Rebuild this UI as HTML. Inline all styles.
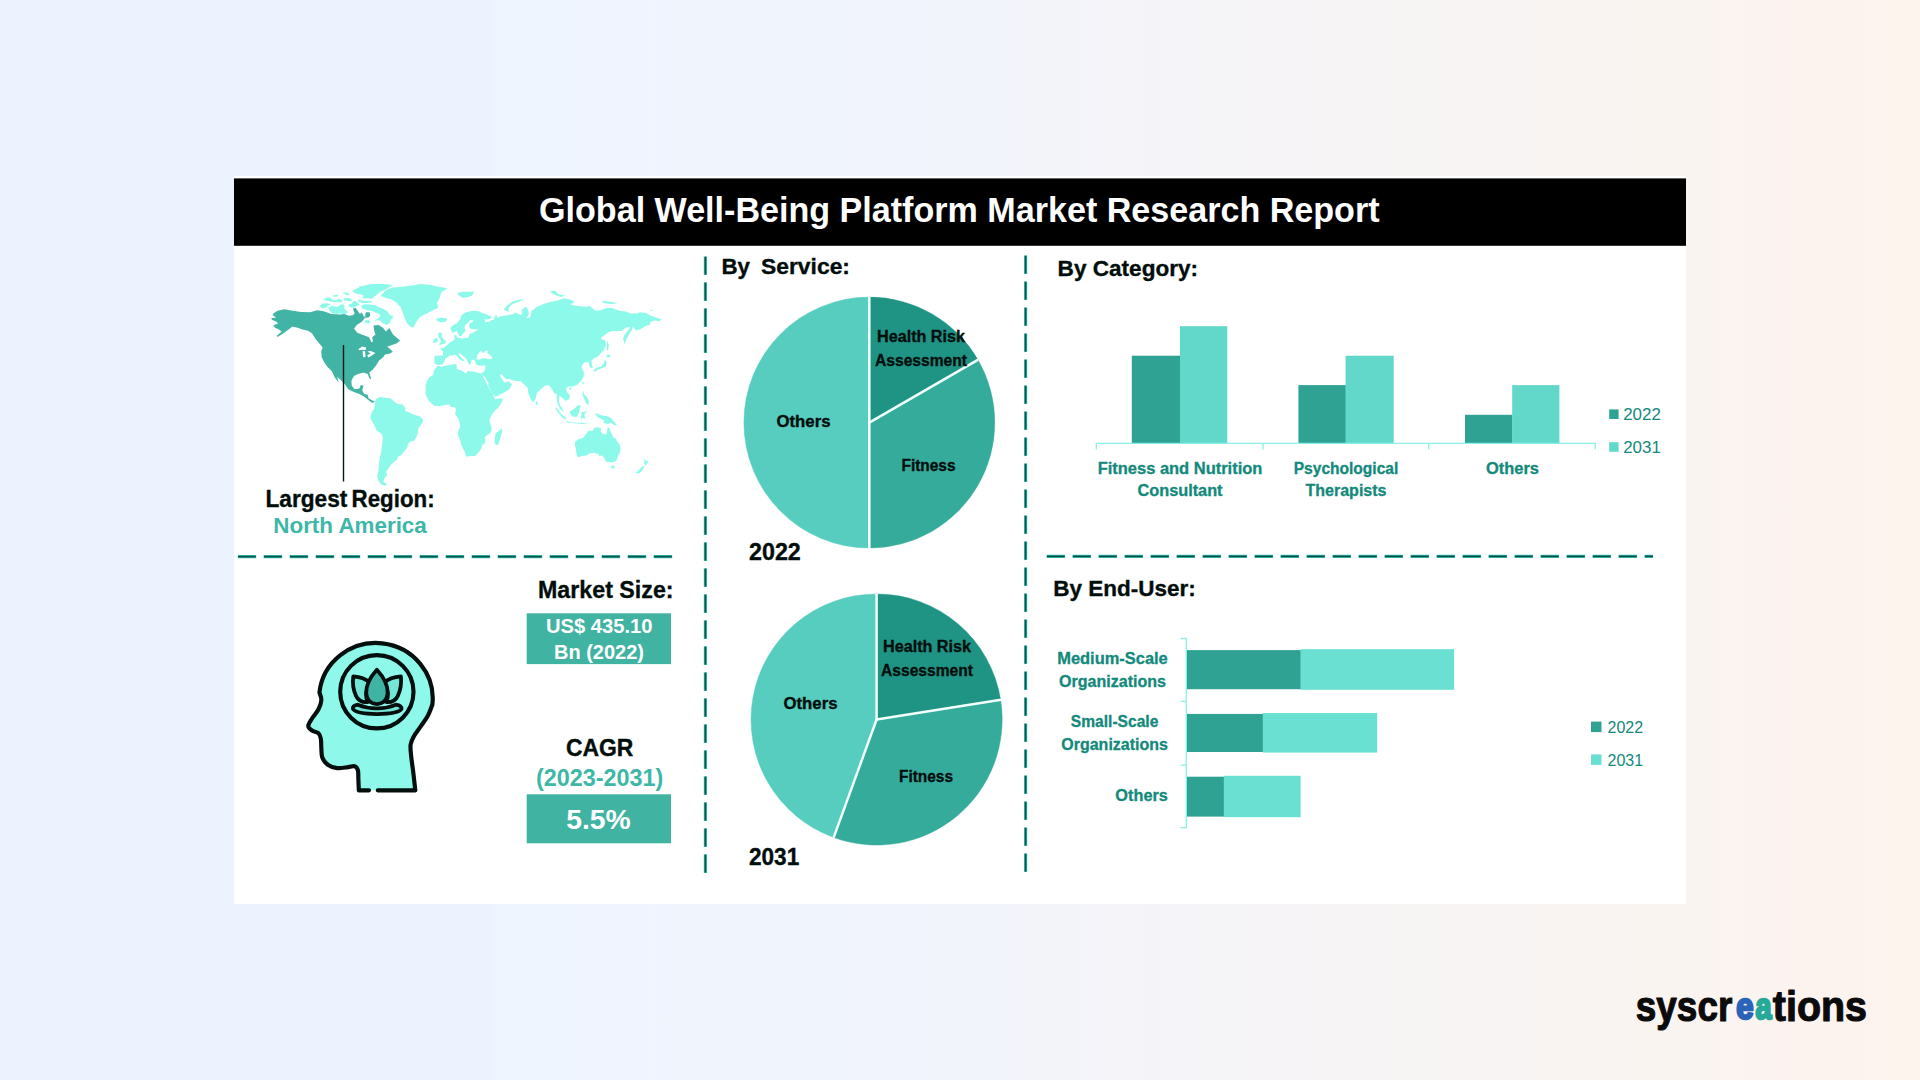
<!DOCTYPE html>
<html lang="en">
<head>
<meta charset="utf-8">
<title>Global Well-Being Platform Market Research Report</title>
<style>
html,body{margin:0;padding:0;}
body{width:1920px;height:1080px;overflow:hidden;position:relative;
background:linear-gradient(90deg,#ecf3fe 0%,#ecf3fe 25.5%,#eff5ff 26%,#f0f4fd 42%,#f2f4fb 52%,#f4f4f9 58%,#f6f4f6 67%,#f8f4f3 78%,#faf4f0 88%,#fcf3ef 94%,#fdf4ee 100%);
font-family:'Liberation Sans', sans-serif;}
svg{position:absolute;left:0;top:0;display:block;}
svg text{font-family:'Liberation Sans', sans-serif;}
</style>
</head>
<body>
<svg width="1920" height="1080" viewBox="0 0 1920 1080">
<g id="card">
<rect x="234" y="176" width="1452" height="728" fill="#fff"/>
<rect x="234" y="178.4" width="1452" height="67.4" fill="#000"/>
<text x="959.3" y="221.9" font-size="34.6" font-weight="bold" fill="#fff" text-anchor="middle" textLength="840.5" lengthAdjust="spacingAndGlyphs">Global Well-Being Platform Market Research Report</text>
</g>
<g id="dividers">
<g stroke="#3fc4b4" stroke-width="3.2" stroke-dasharray="18.6 7.4" stroke-dashoffset="0.2" fill="none"><path d="M705.4,256.5V873"/><path d="M1025.6,255.6V872"/><path d="M237.8,556.6H673"/><path d="M1046.7,556.4H1653"/></g>
<g stroke="#04554c" stroke-width="1.7" stroke-dasharray="17.8 8.2" stroke-dashoffset="-0.2" fill="none"><path d="M705.4,256.5V873"/><path d="M1025.6,255.6V872"/><path d="M237.8,556.6H673"/><path d="M1046.7,556.4H1653"/></g>
</g>
<g id="region-map">
<path fill="#8cf9eb" d="M380.7,295.8L385.6,290.3L392.5,287.5L402.2,286.8L411.9,285.4L420.3,284.0L430.0,284.7L438.3,286.8L447.4,288.2L441.1,292.4L439.7,297.9L436.9,302.8L438.3,307.6L432.8,310.4L427.2,313.2L420.3,316.7L416.1,322.2L413.3,327.8L409.9,326.4L406.4,322.2L404.3,316.7L402.2,311.1L400.8,307.6L396.7,302.8L391.1,299.3L385.6,297.9Z M436.2,318.8L441.1,317.4L447.4,318.8L446.0,321.5L440.4,322.2L436.9,320.8Z M457.1,293.1L463.3,291.7L474.4,291.7L471.7,295.8L467.5,297.2L463.3,297.9L459.2,295.8Z M375.0,401.7L376.7,398.3L380.6,396.9L385.6,397.8L390.6,398.3L394.4,401.7L397.8,403.9L402.8,404.4L405.6,408.3L405.0,411.1L410.0,412.8L414.4,415.0L418.9,416.1L422.8,418.9L422.8,422.2L420.6,425.6L418.3,428.3L417.8,433.3L416.1,437.8L414.4,440.6L410.0,441.7L407.8,444.4L407.2,447.8L404.4,451.1L401.7,455.0L397.8,456.7L397.2,459.4L394.4,461.7L391.1,464.4L388.9,467.8L386.1,471.7L387.2,475.0L384.4,478.3L383.3,481.7L387.2,484.4L385.0,485.6L381.1,484.4L378.3,480.6L377.2,476.7L378.3,471.1L378.9,465.6L379.4,460.0L381.1,452.2L382.2,444.4L382.8,437.8L381.7,433.9L376.7,430.6L374.4,425.6L371.7,420.6L370.2,417.8L371.7,412.2L374.4,408.3L375.0,404.4Z M437.5,365.8L441.2,366.8L446.8,365.4L452.3,364.4L456.5,364.0L456.9,369.1L461.6,370.5L466.2,373.7L467.6,370.9L472.7,371.4L477.8,372.8L481.5,373.2L483.3,376.9L486.1,382.0L488.0,386.7L490.7,391.3L488.3,386.7L490.6,390.6L493.3,393.9L493.9,396.7L495.0,399.4L499.4,398.3L503.3,398.9L501.1,403.3L498.3,407.8L494.4,411.1L491.7,415.0L489.4,420.0L490.6,425.0L491.7,428.9L490.6,432.8L487.2,435.0L484.4,437.8L485.6,440.6L485.0,443.3L482.2,445.0L481.7,448.3L478.3,452.8L475.0,456.1L470.6,456.1L466.1,456.7L465.0,452.2L462.8,448.3L461.1,444.4L460.0,439.4L457.8,435.0L458.3,431.1L460.2,426.7L459.4,421.7L457.8,417.8L455.0,413.9L456.1,410.0L455.0,407.2L450.6,406.7L449.4,404.4L445.0,405.0L440.0,406.1L434.4,406.1L428.9,401.1L425.6,394.4L425.6,384.4L425.6,385.1L428.3,378.2L433.2,374.7L433.9,370.6Z M495.6,433.3L498.9,431.1L501.7,428.3L502.2,431.7L500.6,436.7L499.4,441.1L497.8,445.0L495.6,445.0L494.4,441.7L495.0,437.8Z M438.9,364.9L434.7,364.0L434.3,359.8L434.7,356.1L438.9,355.6L443.1,355.6L443.1,351.5L439.8,348.7L443.5,347.8L447.2,345.0L450.0,342.2L453.7,340.4L454.6,338.5L454.2,335.7L456.0,334.8L456.9,337.6L459.3,338.1L462.0,338.5L465.7,338.1L468.5,337.6L469.4,333.9L472.2,333.0L476.9,330.6L477.8,329.3L474.1,329.3L470.4,328.8L469.0,326.5L469.4,323.7L473.1,321.4L472.7,319.8L469.9,320.5L467.6,323.2L464.8,325.6L464.4,327.9L465.7,330.2L463.4,333.0L461.6,335.7L459.3,336.2L457.9,333.0L456.9,331.1L453.7,332.5L451.9,332.5L450.5,327.4L453.7,325.1L457.4,322.8L460.2,319.1L461.6,314.9L465.7,312.6L470.4,311.2L475.0,310.7L478.7,311.2L482.4,313.1L488.0,314.9L491.7,316.8L490.7,319.1L487.0,319.5L484.7,319.1L485.2,321.9L488.9,321.9L491.7,320.0L494.4,319.5L494.9,315.4L496.8,314.9L497.2,317.7L500.9,316.3L505.6,315.4L512.0,314.4L514.4,313.1L517.6,313.5L521.3,314.9L522.2,312.6L521.3,310.7L525.0,307.0L523.3,308.1L526.1,306.7L528.2,310.1L528.9,314.3L526.1,318.5L530.3,317.1L531.7,310.8L537.2,306.7L543.5,303.9L551.1,301.8L558.1,300.4L563.6,298.3L570.6,299.7L574.7,301.8L570.6,304.6L577.5,306.0L584.4,306.7L590.0,306.0L592.8,308.8L595.6,310.8L601.1,310.1L606.7,308.1L612.2,308.1L619.2,310.8L626.1,311.5L630.3,313.6L637.2,313.6L640.0,312.2L645.6,312.9L651.1,315.7L656.7,317.8L661.5,319.2L659.4,321.2L655.3,320.6L651.1,321.2L649.7,324.7L645.6,326.1L640.0,329.6L635.8,330.3L633.1,326.8L631.7,330.3L628.9,334.4L626.1,340.0L624.7,344.2L623.1,338.6L624.7,334.4L628.9,329.6L630.3,326.8L626.1,327.5L621.9,331.0L617.8,331.0L612.2,331.0L608.1,332.4L603.9,335.8L600.4,338.6L605.3,340.7L606.0,344.9L603.9,349.7L599.7,354.6L596.9,357.4L594.2,358.1L591.4,360.8L592.1,365.0L592.8,367.8L590.0,367.8L588.6,362.2L584.4,362.2L581.7,365.7L579.6,362.9L583.1,360.1L581.7,367.8L583.8,371.9L583.8,376.1L581.7,380.3L577.5,384.4L573.3,386.5L568.5,386.5L565.7,388.6L567.1,392.1L569.9,395.6L569.2,399.0L565.7,401.1L562.9,398.3L559.4,395.6L558.8,401.1L560.1,405.3L562.9,409.4L563.6,412.2L560.8,409.4L558.1,405.3L556.7,399.7L556.7,394.2L553.9,392.8L551.8,388.6L548.3,385.1L544.9,385.8L540.7,389.3L536.5,393.5L535.8,398.3L533.1,402.5L530.3,398.3L528.2,392.8L527.5,387.2L525.4,385.8L521.9,382.4L520.6,381.0L515.0,381.0L512.5,380.2L509.3,378.8L506.5,379.3L503.7,376.9L501.9,374.2L499.5,375.1L501.9,378.8L504.2,382.5L508.8,381.6L512.0,383.9L509.7,389.0L504.6,392.2L499.1,395.0L500.0,395.0L495.6,396.7L493.9,395.0L492.2,392.2L489.4,388.3L487.8,384.4L488.9,383.9L485.2,377.4L482.9,375.6L481.5,372.8L483.8,372.3L485.2,369.1L485.6,365.8L484.3,365.4L480.6,365.8L476.4,364.9L475.5,361.7L474.1,359.8L471.3,360.3L470.8,363.5L469.4,364.9L467.6,361.7L466.2,358.4L463.9,356.6L461.1,354.3L458.3,352.9L459.3,355.2L461.6,358.0L463.9,359.8L464.8,361.2L462.0,360.7L459.3,358.9L456.9,356.1L455.1,354.3L452.8,355.6L449.1,355.6L448.1,357.0L444.9,358.9L444.4,361.7L442.1,364.4Z M503.7,309.4L507.4,305.2L512.0,301.9L517.6,300.1L523.1,299.2L522.2,300.6L516.7,302.4L512.0,304.3L509.3,307.0L508.3,309.8L509.7,311.7L505.6,310.7Z M438.0,333.9L439.8,332.0L442.1,333.9L441.7,336.7L443.5,339.0L446.3,341.8L444.9,343.6L441.7,344.5L438.9,345.0L440.3,342.7L441.2,340.8L438.9,338.1Z M433.8,339.4L436.1,337.8L438.0,339.4L437.5,341.8L434.3,343.1L433.1,342.2Z M575.0,441.7L578.9,438.9L583.3,437.8L585.6,434.4L588.9,430.6L592.8,431.1L594.4,427.8L597.8,427.2L601.1,428.3L600.6,431.7L603.3,433.9L606.1,434.4L607.2,431.1L607.8,426.7L609.4,428.3L610.6,431.7L612.2,434.4L612.8,437.2L615.6,438.3L616.7,441.1L619.4,443.9L620.6,447.8L620.0,452.2L617.8,456.7L616.7,460.6L613.3,462.2L610.0,462.2L606.1,461.7L604.4,458.3L602.2,455.6L599.4,456.1L598.3,453.9L594.4,452.8L590.0,453.3L586.7,455.6L582.2,456.1L577.8,457.2L576.7,454.4L576.1,450.0L575.0,445.6Z M319.7,306.1L322.3,303.5L326.9,303.2L330.7,304.2L328.1,306.1L324.9,308.1L322.3,308.4Z M328.1,307.4L332.0,306.1L337.2,306.8L341.8,304.2L344.3,304.8L344.3,308.7L346.9,311.3L347.6,313.2L343.7,313.9L340.5,313.2L337.2,313.9L332.0,313.2L329.4,310.6Z M323.0,299.3L327.5,297.4L330.7,297.7L331.4,299.3L335.9,300.3L338.5,298.7L342.4,300.6L341.8,302.2L335.9,302.2L330.7,301.6L326.2,300.6Z M332.7,295.4L337.2,294.4L338.5,295.7L335.9,296.7L333.3,296.7Z M343.7,298.3L348.9,298.0L352.1,299.6L351.5,301.2L348.2,300.9L344.3,300.6Z M343.1,292.2L346.3,292.5L349.5,294.1L348.9,295.4L345.6,294.4L343.4,293.5Z M352.8,290.6L356.7,288.6L359.3,287.6L358.0,286.7L365.1,285.4L371.6,284.1L381.3,283.7L393.0,285.0L389.7,287.0L384.5,289.9L378.7,292.5L376.8,295.1L374.2,296.4L372.2,298.7L368.3,298.3L361.8,298.3L363.8,295.7L360.6,294.4L356.7,293.8L353.4,292.5Z M358.0,299.3L361.8,300.6L367.0,300.9L371.6,300.9L372.2,302.2L367.0,302.9L361.8,302.9L358.6,301.6Z M348.2,304.8L351.5,303.5L354.1,300.6L358.0,302.9L359.9,304.8L356.7,306.1L354.7,307.4L351.5,307.4L348.9,306.4Z M361.2,305.5L364.4,304.2L369.6,304.5L374.8,305.1L378.0,307.1L383.2,308.7L387.1,311.3L389.7,314.5L393.6,317.1L391.0,319.7L389.7,323.0L386.5,324.9L382.6,323.0L380.6,320.4L374.8,320.4L378.7,317.8L380.6,315.2L377.4,313.2L372.2,311.3L367.0,310.0L362.5,308.7Z M365.1,320.4L368.3,319.7L370.9,321.7L368.3,323.6L365.1,323.0Z M535.8,401.1L537.9,402.5L537.2,405.3L535.8,404.6Z M606.7,354.6L610.8,355.3L609.4,357.4L606.7,357.4Z M605.3,359.4L606.7,362.2L606.0,366.4L601.1,368.5L596.9,369.9L594.9,371.9L593.5,370.6L596.2,367.8L601.1,366.4L603.9,363.6Z M607.4,340.7L608.8,345.6L608.1,351.1L606.7,349.7L606.9,344.2Z M582.6,381.4L584.0,382.4L583.1,384.4L582.1,383.3Z M569.9,387.2L571.7,388.6L570.3,390.0L568.9,388.9Z M549.7,291.4L555.3,290.7L558.1,294.2L565.0,295.6L560.8,296.9L555.3,294.9Z M601.8,301.1L610.8,301.8L617.8,303.2L612.2,303.9L603.9,303.2Z M649.7,309.9L653.2,310.1L651.8,311.1Z M554.4,406.7L557.8,408.9L561.1,413.9L565.6,417.2L566.1,419.4L562.8,418.3L559.4,413.9L556.1,409.4Z M569.4,411.7L573.9,408.9L578.3,405.0L580.6,406.1L579.4,410.6L578.3,413.9L576.7,417.2L571.7,416.1Z M566.1,421.1L572.2,422.2L581.1,423.1L590.0,422.8L583.3,423.9L574.4,423.3L566.7,422.2Z M581.7,412.2L587.8,411.1L584.4,413.9L585.0,418.9L582.8,417.8L581.1,420.0L581.3,415.0Z M595.0,413.3L598.3,413.9L601.7,415.6L606.7,416.1L610.6,417.8L613.3,421.1L617.2,425.0L614.4,425.3L611.1,422.8L607.8,423.9L603.3,422.8L604.4,420.6L600.0,418.3L597.2,416.7Z M582.8,390.6L584.4,394.4L586.7,396.7L588.9,401.1L588.3,405.0L586.1,403.3L584.4,399.4L582.8,395.6Z M610.6,466.1L614.4,465.6L614.2,468.3L612.2,469.1Z M643.3,456.7L645.0,460.0L648.9,462.0L646.7,463.9L645.6,466.1L644.2,463.3L644.4,460.6Z M635.6,472.8L638.9,470.0L642.8,466.1L644.4,466.7L642.2,470.6L639.4,473.3L636.7,473.6Z"/>
<path fill="#fff" d="M476.4,358.9L477.3,355.2L479.6,351.9L481.5,351.0L482.9,353.3L485.2,351.0L488.4,350.6L487.0,352.9L489.8,354.7L492.1,357.0L491.7,358.9L488.0,358.9L484.3,358.0L480.6,358.9L477.8,359.8Z"/>
<path fill="#41b4a5" d="M273.3,313.5L277.5,310.7L284.4,309.3L292.8,310.7L301.1,312.1L310.0,312.3L317.1,310.3L323.6,311.3L331.4,313.9L339.8,314.5L344.3,313.9L348.9,315.8L352.8,315.2L354.7,313.2L352.8,308.7L355.4,307.7L358.0,311.3L359.9,313.9L361.8,312.6L363.8,316.5L365.1,317.1L365.7,312.3L369.6,312.3L370.3,315.8L368.3,317.4L365.1,317.8L361.8,321.7L356.7,324.9L354.1,328.8L357.3,332.7L363.8,335.3L369.0,337.2L371.6,342.4L372.9,341.1L372.2,337.2L375.5,334.6L374.2,330.7L373.5,325.6L378.7,324.9L383.2,328.1L385.8,331.4L389.4,328.1L393.0,334.6L400.1,340.5L396.9,343.3L390.7,345.4L387.2,346.8L390.0,348.9L392.8,351.7L389.3,353.8L385.1,354.4L383.1,357.2L378.9,360.7L376.1,365.6L372.6,369.7L369.2,372.5L370.6,376.7L371.2,379.4L369.2,378.1L367.8,373.9L363.6,372.5L358.1,373.9L353.9,376.0L351.4,380.8L351.8,385.7L354.6,389.2L359.4,388.5L360.8,385.0L363.6,385.7L362.2,390.6L364.3,394.0L367.8,394.7L368.5,398.2L371.9,400.3L374.7,401.7L372.6,403.1L368.5,400.3L364.3,396.8L359.4,394.0L353.9,391.9L348.3,389.2L344.9,384.3L340.7,380.1L337.2,376.7L338.6,382.2L335.1,378.1L331.7,371.1L327.5,366.9L324.0,362.1L321.7,357.2L321.2,351.7L322.6,347.5L319.2,343.3L315.7,339.2L312.2,333.6L308.1,330.8L302.5,329.4L296.9,327.4L292.1,326.7L288.6,329.4L283.1,333.6L277.5,337.1L276.8,335.7L281.7,331.5L278.9,329.4L274.7,327.4L273.3,325.3L278.2,323.6L276.1,321.4L271.9,319.7L271.2,318.3L276.1,317.6L272.6,314.9Z"/>
<path fill="#fff" d="M358.3,349.2L362.2,346.4L366.1,347.5L365.6,350.0L362.2,349.7L359.4,350.3Z M362.6,351.1L365.0,350.8L365.6,356.9L363.1,357.2Z M367.1,351.4L370.8,351.1L375.4,353.1L372.2,355.3L368.5,357.5L367.2,355.3L370.8,353.6Z"/>
<path d="M343.5,345V481.5" stroke="#011a17" stroke-width="1.4"/>
<text x="265.4" y="507.2" font-size="23.7" font-weight="bold" fill="#010e0c" text-anchor="start" textLength="82" lengthAdjust="spacingAndGlyphs" stroke="#010e0c" stroke-width="0.35">Largest</text>
<text x="351.6" y="507.2" font-size="23.7" font-weight="bold" fill="#010e0c" text-anchor="start" textLength="83" lengthAdjust="spacingAndGlyphs" stroke="#010e0c" stroke-width="0.35">Region:</text>
<text x="273.3" y="532.7" font-size="22.6" font-weight="bold" fill="#3db7a7" text-anchor="start" textLength="153.5" lengthAdjust="spacingAndGlyphs">North America</text>
</g>
<g id="wellbeing-icon">
<g transform="translate(290,630) scale(0.15748)" fill="#8ef9eb" stroke="#020f0d" stroke-width="26.5" stroke-linecap="round" stroke-linejoin="round">
<path d="M501.5,1018 L437,1018 L434,944C433.5,935.0 435.0,903.2 431.0,890.0C427.0,876.8 420.3,868.2 410.0,865.0C399.7,861.8 387.5,869.0 369.0,871.0C350.5,873.0 320.5,879.5 299.0,877.0C277.5,874.5 255.7,867.3 240.0,856.0C224.3,844.7 211.8,826.7 205.0,809.0C198.2,791.3 200.5,769.7 199.0,750.0C197.5,730.3 199.0,706.7 196.0,691.0C193.0,675.3 190.3,664.8 181.0,656.0C171.7,647.2 150.8,645.8 140.0,638.0C129.2,630.2 116.0,621.7 116.0,609.0C116.0,596.3 129.2,579.7 140.0,562.0C150.8,544.3 171.2,522.5 181.0,503.0C190.8,483.5 198.0,462.8 199.0,445.0C200.0,427.2 189.0,404.2 187.0,396.0A359,351 0 1 1 904,474C899.2,485.8 887.7,521.5 875.0,545.0C862.3,568.5 842.7,593.5 828.0,615.0C813.3,636.5 797.3,655.3 787.0,674.0C776.7,692.7 769.0,706.5 766.0,727.0C763.0,747.5 766.0,765.7 769.0,797.0C772.0,828.3 779.6,878.2 784.0,915.0C788.4,951.8 793.6,1000.8 795.5,1018.0 Z" stroke="none"/>
<path d="M501.5,1018 L437,1018 L434,944C433.5,935.0 435.0,903.2 431.0,890.0C427.0,876.8 420.3,868.2 410.0,865.0C399.7,861.8 387.5,869.0 369.0,871.0C350.5,873.0 320.5,879.5 299.0,877.0C277.5,874.5 255.7,867.3 240.0,856.0C224.3,844.7 211.8,826.7 205.0,809.0C198.2,791.3 200.5,769.7 199.0,750.0C197.5,730.3 199.0,706.7 196.0,691.0C193.0,675.3 190.3,664.8 181.0,656.0C171.7,647.2 150.8,645.8 140.0,638.0C129.2,630.2 116.0,621.7 116.0,609.0C116.0,596.3 129.2,579.7 140.0,562.0C150.8,544.3 171.2,522.5 181.0,503.0C190.8,483.5 198.0,462.8 199.0,445.0C200.0,427.2 189.0,404.2 187.0,396.0A359,351 0 1 1 904,474C899.2,485.8 887.7,521.5 875.0,545.0C862.3,568.5 842.7,593.5 828.0,615.0C813.3,636.5 797.3,655.3 787.0,674.0C776.7,692.7 769.0,706.5 766.0,727.0C763.0,747.5 766.0,765.7 769.0,797.0C772.0,828.3 779.6,878.2 784.0,915.0C788.4,951.8 793.6,1000.8 795.5,1018.0 L557.5,1018" fill="none"/>
<circle cx="551.5" cy="392.5" r="232.7" fill="none"/>
<g stroke-width="24">
<path d="M402,294 Q470,300 505,332 Q470,400 492,458 Q440,462 420,420 Q392,360 402,294Z" fill="#74e6d7"/>
<path d="M704,294 Q636,300 600,332 Q636,400 612,458 Q664,462 684,420 Q712,360 704,294Z" fill="#74e6d7"/>
<path d="M551.5,252 Q624,330 620,402 Q614,466 551.5,470 Q490,466 484,402 Q480,330 551.5,252Z" fill="#3fb3a4"/>
<path d="M430,474 Q392,482 400,502 Q420,532 551.5,534 Q690,532 708,502 Q712,480 672,474 Q610,498 551.5,497 Q490,498 430,474Z" fill="#74e6d7"/>
</g>
</g>
</g>
<g id="market-size">
<text x="538" y="597.8" font-size="24.4" font-weight="bold" fill="#010e0c" text-anchor="start" textLength="135.6" lengthAdjust="spacingAndGlyphs" stroke="#010e0c" stroke-width="0.35">Market Size:</text>
<rect x="526.7" y="613.3" width="144.3" height="50.8" fill="#41b3a3"/>
<text x="599.3" y="633" font-size="19.5" font-weight="bold" fill="#fff" text-anchor="middle" textLength="106.5" lengthAdjust="spacingAndGlyphs">US$ 435.10</text>
<text x="599" y="658.7" font-size="19.5" font-weight="bold" fill="#fff" text-anchor="middle" textLength="90" lengthAdjust="spacingAndGlyphs">Bn (2022)</text>
<text x="599.7" y="756.3" font-size="23" font-weight="bold" fill="#010e0c" text-anchor="middle" textLength="67.5" lengthAdjust="spacingAndGlyphs" stroke="#010e0c" stroke-width="0.35">CAGR</text>
<text x="599.7" y="786" font-size="23" font-weight="bold" fill="#3db7a7" text-anchor="middle" textLength="127.3" lengthAdjust="spacingAndGlyphs">(2023-2031)</text>
<rect x="526.7" y="794.3" width="144.3" height="49" fill="#41b3a3"/>
<text x="598.4" y="828.9" font-size="28" font-weight="bold" fill="#fff" text-anchor="middle" textLength="64.5" lengthAdjust="spacingAndGlyphs">5.5%</text>
</g>
<g id="by-service">
<text x="721.4" y="274.2" font-size="22.6" font-weight="bold" fill="#010e0c" text-anchor="start" textLength="28.5" lengthAdjust="spacingAndGlyphs" stroke="#010e0c" stroke-width="0.35">By</text>
<text x="761" y="274.2" font-size="22.6" font-weight="bold" fill="#010e0c" text-anchor="start" textLength="89" lengthAdjust="spacingAndGlyphs" stroke="#010e0c" stroke-width="0.35">Service:</text>
<path d="M869.3,422.6L869.30,297.10A125.5,125.5 0 0 1 977.99,359.85Z" fill="#1f9485" stroke="#1f9485" stroke-width="0.4"/>
<path d="M869.3,422.6L977.99,359.85A125.5,125.5 0 0 1 869.30,548.10Z" fill="#35ab9c" stroke="#35ab9c" stroke-width="0.4"/>
<path d="M869.3,422.6L869.30,548.10A125.5,125.5 0 0 1 869.30,297.10Z" fill="#56cdbe" stroke="#56cdbe" stroke-width="0.4"/>
<path d="M869.3,422.6L869.30,296.80M869.3,422.6L978.25,359.70M869.3,422.6L869.30,548.40" stroke="#f2fffc" stroke-width="2.5" stroke-linecap="butt" fill="none"/>
<circle cx="869.3" cy="422.6" r="1.25" fill="#f2fffc"/>
<text x="921" y="341.5" font-size="16" font-weight="bold" fill="#010e0c" text-anchor="middle" textLength="88" lengthAdjust="spacingAndGlyphs" stroke="#010e0c" stroke-width="0.35">Health Risk</text>
<text x="921" y="365.5" font-size="16" font-weight="bold" fill="#010e0c" text-anchor="middle" textLength="92" lengthAdjust="spacingAndGlyphs" stroke="#010e0c" stroke-width="0.35">Assessment</text>
<text x="928.5" y="471" font-size="16" font-weight="bold" fill="#010e0c" text-anchor="middle" textLength="54" lengthAdjust="spacingAndGlyphs" stroke="#010e0c" stroke-width="0.35">Fitness</text>
<text x="803.5" y="426.5" font-size="16" font-weight="bold" fill="#010e0c" text-anchor="middle" textLength="54" lengthAdjust="spacingAndGlyphs" stroke="#010e0c" stroke-width="0.35">Others</text>
<text x="749.0" y="559.7" font-size="23.3" font-weight="bold" fill="#010e0c" text-anchor="start" textLength="51.8" lengthAdjust="spacingAndGlyphs" stroke="#010e0c" stroke-width="0.35">2022</text>
<path d="M876.6,719.5L876.60,593.90A125.6,125.6 0 0 1 1000.65,699.85Z" fill="#1f9485" stroke="#1f9485" stroke-width="0.4"/>
<path d="M876.6,719.5L1000.65,699.85A125.6,125.6 0 0 1 833.64,837.53Z" fill="#35ab9c" stroke="#35ab9c" stroke-width="0.4"/>
<path d="M876.6,719.5L833.64,837.53A125.6,125.6 0 0 1 876.60,593.90Z" fill="#56cdbe" stroke="#56cdbe" stroke-width="0.4"/>
<path d="M876.6,719.5L876.60,593.60M876.6,719.5L1000.95,699.80M876.6,719.5L833.54,837.81" stroke="#f2fffc" stroke-width="2.5" stroke-linecap="butt" fill="none"/>
<circle cx="876.6" cy="719.5" r="1.25" fill="#f2fffc"/>
<text x="927" y="652" font-size="16" font-weight="bold" fill="#010e0c" text-anchor="middle" textLength="88" lengthAdjust="spacingAndGlyphs" stroke="#010e0c" stroke-width="0.35">Health Risk</text>
<text x="927" y="676" font-size="16" font-weight="bold" fill="#010e0c" text-anchor="middle" textLength="92" lengthAdjust="spacingAndGlyphs" stroke="#010e0c" stroke-width="0.35">Assessment</text>
<text x="926" y="782" font-size="16" font-weight="bold" fill="#010e0c" text-anchor="middle" textLength="54" lengthAdjust="spacingAndGlyphs" stroke="#010e0c" stroke-width="0.35">Fitness</text>
<text x="810.5" y="709" font-size="16" font-weight="bold" fill="#010e0c" text-anchor="middle" textLength="54" lengthAdjust="spacingAndGlyphs" stroke="#010e0c" stroke-width="0.35">Others</text>
<text x="749.0" y="864.8" font-size="23.3" font-weight="bold" fill="#010e0c" text-anchor="start" textLength="50.2" lengthAdjust="spacingAndGlyphs" stroke="#010e0c" stroke-width="0.35">2031</text>
</g>
<g id="by-category">
<text x="1057.6" y="276.1" font-size="22.4" font-weight="bold" fill="#010e0c" text-anchor="start" textLength="140.5" lengthAdjust="spacingAndGlyphs" stroke="#010e0c" stroke-width="0.35">By Category:</text>
<rect x="1131.8" y="355.7" width="48.5" height="87.7" fill="#2fa294"/>
<rect x="1180.0" y="326.2" width="47.3" height="117.2" fill="#62d8ca"/>
<rect x="1298.4" y="385.1" width="47.5" height="58.3" fill="#2fa294"/>
<rect x="1345.6" y="355.7" width="48.1" height="87.7" fill="#62d8ca"/>
<rect x="1465" y="414.8" width="47.5" height="28.6" fill="#2fa294"/>
<rect x="1512.2" y="385.1" width="47.2" height="58.3" fill="#62d8ca"/>
<path d="M1096.3,449.5V443.4H1595.2V449.5M1263,443.4V449.5M1428.8,443.4V449.5" stroke="#8af0e3" stroke-width="1.3" fill="none"/>
<text x="1180" y="474" font-size="16" font-weight="bold" fill="#12897b" text-anchor="middle" textLength="164.7" lengthAdjust="spacingAndGlyphs" stroke="#12897b" stroke-width="0.3">Fitness and Nutrition</text>
<text x="1180" y="496" font-size="16" font-weight="bold" fill="#12897b" text-anchor="middle" textLength="85" lengthAdjust="spacingAndGlyphs" stroke="#12897b" stroke-width="0.3">Consultant</text>
<text x="1346" y="474" font-size="16" font-weight="bold" fill="#12897b" text-anchor="middle" textLength="104.5" lengthAdjust="spacingAndGlyphs" stroke="#12897b" stroke-width="0.3">Psychological</text>
<text x="1346" y="496" font-size="16" font-weight="bold" fill="#12897b" text-anchor="middle" textLength="81" lengthAdjust="spacingAndGlyphs" stroke="#12897b" stroke-width="0.3">Therapists</text>
<text x="1512.5" y="474" font-size="16" font-weight="bold" fill="#12897b" text-anchor="middle" textLength="53" lengthAdjust="spacingAndGlyphs" stroke="#12897b" stroke-width="0.3">Others</text>
<rect x="1609.2" y="409.4" width="9.4" height="9.6" fill="#2fa294"/>
<rect x="1609.2" y="442.2" width="9.4" height="9.6" fill="#62d8ca"/>
<text x="1623.2" y="420" font-size="16.5" font-weight="normal" fill="#12897b" text-anchor="start" textLength="37.6" lengthAdjust="spacingAndGlyphs">2022</text>
<text x="1623.2" y="452.8" font-size="16.5" font-weight="normal" fill="#12897b" text-anchor="start" textLength="37.6" lengthAdjust="spacingAndGlyphs">2031</text>
</g>
<g id="by-end-user">
<text x="1053.3" y="596.3" font-size="22.4" font-weight="bold" fill="#010e0c" text-anchor="start" textLength="142.5" lengthAdjust="spacingAndGlyphs" stroke="#010e0c" stroke-width="0.35">By End-User:</text>
<rect x="1187" y="650.1" width="113.9" height="39.1" fill="#2fa294"/>
<rect x="1300.6" y="649.2" width="153.5" height="40.6" fill="#6ae0d2"/>
<rect x="1187" y="713.9" width="76.1" height="38.1" fill="#2fa294"/>
<rect x="1262.8" y="713.0" width="114.4" height="39.6" fill="#6ae0d2"/>
<rect x="1187" y="776.6999999999999" width="37.1" height="39.9" fill="#2fa294"/>
<rect x="1223.8" y="775.8" width="76.8" height="41.4" fill="#6ae0d2"/>
<path d="M1180.7,638.5H1186.3V827.6H1180.7M1180.7,701.3H1186.3M1180.7,765.2H1186.3" stroke="#8af0e3" stroke-width="1.3" fill="none"/>
<text x="1112.5" y="664" font-size="16" font-weight="bold" fill="#12897b" text-anchor="middle" textLength="110.5" lengthAdjust="spacingAndGlyphs" stroke="#12897b" stroke-width="0.3">Medium-Scale</text>
<text x="1112.5" y="686.5" font-size="16" font-weight="bold" fill="#12897b" text-anchor="middle" textLength="107" lengthAdjust="spacingAndGlyphs" stroke="#12897b" stroke-width="0.3">Organizations</text>
<text x="1114.6" y="726.5" font-size="16" font-weight="bold" fill="#12897b" text-anchor="middle" textLength="87.5" lengthAdjust="spacingAndGlyphs" stroke="#12897b" stroke-width="0.3">Small-Scale</text>
<text x="1114.6" y="750" font-size="16" font-weight="bold" fill="#12897b" text-anchor="middle" textLength="106.5" lengthAdjust="spacingAndGlyphs" stroke="#12897b" stroke-width="0.3">Organizations</text>
<text x="1141.6" y="801" font-size="16" font-weight="bold" fill="#12897b" text-anchor="middle" textLength="52.5" lengthAdjust="spacingAndGlyphs" stroke="#12897b" stroke-width="0.3">Others</text>
<rect x="1591" y="721.6" width="10.5" height="10.5" fill="#2fa294"/>
<rect x="1591" y="754.4" width="10.5" height="10.5" fill="#6ae0d2"/>
<text x="1607.5" y="732.8" font-size="16.5" font-weight="normal" fill="#12897b" text-anchor="start" textLength="35.6" lengthAdjust="spacingAndGlyphs">2022</text>
<text x="1607.5" y="765.6" font-size="16.5" font-weight="normal" fill="#12897b" text-anchor="start" textLength="35.6" lengthAdjust="spacingAndGlyphs">2031</text>
</g>
<g id="logo">
<text x="1635.8" y="1020.8" font-size="42" font-weight="bold" fill="#0b0b0b" text-anchor="start" textLength="96.5" lengthAdjust="spacingAndGlyphs" stroke="#0b0b0b" stroke-width="1.1" stroke-linejoin="round">syscr</text>
<text x="1736.2" y="1019.3" font-size="37" font-weight="bold" fill="#2a63b8" text-anchor="start" textLength="17.3" lengthAdjust="spacingAndGlyphs" stroke="#2a63b8" stroke-width="2.6" stroke-linejoin="round">e</text>
<text x="1755.6" y="1019.3" font-size="37" font-weight="bold" fill="#27a99a" text-anchor="start" textLength="16" lengthAdjust="spacingAndGlyphs" stroke="#27a99a" stroke-width="2.6" stroke-linejoin="round">a</text>
<text x="1772.8" y="1020.8" font-size="42" font-weight="bold" fill="#0b0b0b" text-anchor="start" textLength="94.2" lengthAdjust="spacingAndGlyphs" stroke="#0b0b0b" stroke-width="1.1" stroke-linejoin="round">tions</text>
</g>
</svg>
</body>
</html>
